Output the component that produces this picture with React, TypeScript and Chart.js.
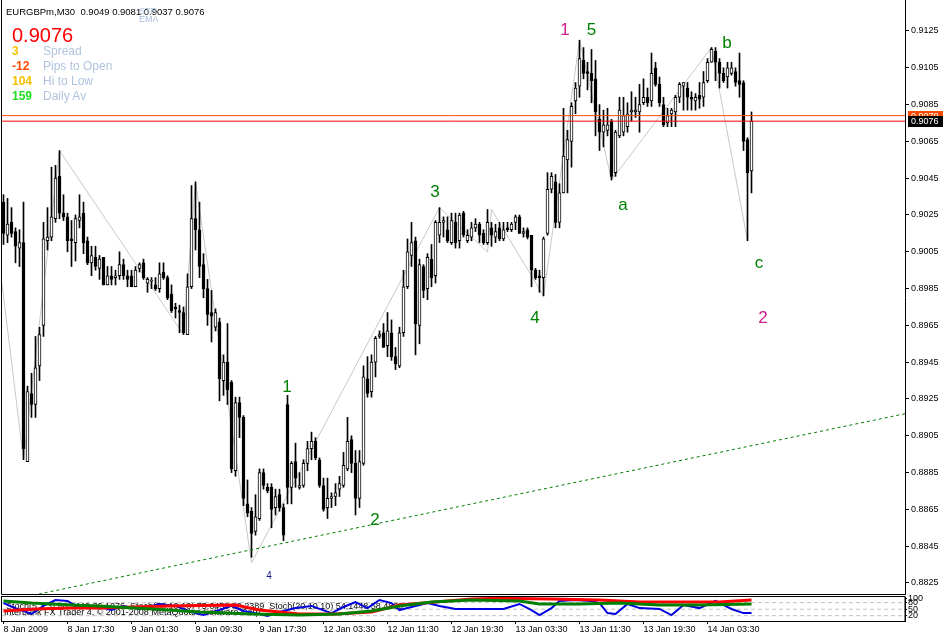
import React, { useEffect, useRef } from "react";
import { Chart, registerables } from "chart.js";
Chart.register(...registerables);

const FONT = "'Liberation Sans', Arial, sans-serif";

// ---- candle data (EURGBPm, M30) ----
const opens = [
  0.9032,0.9014,0.9021,0.9016,0.9007,0.9010,0.8891,0.8928,0.8922,0.8943,
  0.8965,0.9011,0.9013,0.9023,0.9046,0.9026,0.9024,0.9012,0.9010,0.9022,
  0.9026,0.9011,0.8999,0.9002,0.8996,0.9002,0.8987,0.8992,0.8991,0.8992,
  0.8998,0.8992,0.8992,0.8986,0.8996,0.8999,0.8988,0.8989,0.8987,0.8985,
  0.8994,0.8991,0.8982,0.8975,0.8973,0.8972,0.8960,0.8986,0.9023,0.9017,
  0.8998,0.8985,0.8972,0.8964,0.8967,0.8935,0.8945,0.8934,0.8886,0.8923,
  0.8915,0.8868,0.8864,0.8853,0.8860,0.8885,0.8877,0.8877,0.8866,0.8873,
  0.8866,0.8922,0.8877,0.8891,0.8877,0.8878,0.8890,0.8898,0.8902,0.8892,
  0.8878,0.8866,0.8871,0.8872,0.8876,0.8878,0.8887,0.8903,0.8890,0.8871,
  0.8890,0.8936,0.8929,0.8945,0.8959,0.8961,0.8954,0.8961,0.8948,0.8943,
  0.8961,0.8986,0.9003,0.9011,0.8965,0.8997,0.8985,0.9001,0.8992,0.9014,
  0.9021,0.9017,0.9010,0.9021,0.9011,0.9026,0.9011,0.9013,0.9018,0.9020,
  0.9015,0.9010,0.9018,0.9013,0.9018,0.9012,0.9018,0.9017,0.9021,0.9024,
  0.9015,0.9017,0.9014,0.8995,0.8992,0.8991,0.9015,0.9039,0.9043,0.9021,
  0.9037,0.9055,0.9065,0.9087,0.9095,0.9109,0.9103,0.9102,0.9099,0.9077,
  0.9070,0.9071,0.9076,0.9048,0.9068,0.9070,0.9073,0.9081,0.9081,0.9081,
  0.9086,0.9089,0.9087,0.9105,0.9096,0.9085,0.9075,0.9080,0.9081,0.9089,
  0.9095,0.9094,0.9089,0.9087,0.9090,0.9089,0.9098,0.9108,0.9114,0.9108,
  0.9102,0.9100,0.9102,0.9103,0.9098,0.9097,0.9066,0.9049,
];
const highs = [
  0.9036,0.9034,0.9029,0.9018,0.9017,0.9032,0.8932,0.8939,0.8959,0.8964,
  0.9021,0.9029,0.9051,0.9052,0.9060,0.9036,0.9026,0.9022,0.9025,0.9036,
  0.9032,0.9013,0.9008,0.9008,0.9003,0.9002,0.8997,0.8997,0.8995,0.9005,
  0.9001,0.8995,0.8995,0.8997,0.8999,0.9001,0.8991,0.8991,0.8991,0.8999,
  0.8999,0.8992,0.8987,0.8977,0.8976,0.8975,0.8993,0.9041,0.9043,0.9032,
  0.9004,0.8990,0.8984,0.8974,0.8969,0.8949,0.8966,0.8935,0.8926,0.8926,
  0.8916,0.8881,0.8866,0.8873,0.8887,0.8887,0.8879,0.8879,0.8876,0.8876,
  0.8868,0.8927,0.8891,0.8901,0.8885,0.8892,0.8902,0.8907,0.8904,0.8893,
  0.8882,0.8882,0.8874,0.8879,0.8883,0.8896,0.8915,0.8905,0.8897,0.8897,
  0.8943,0.8948,0.8949,0.8959,0.8962,0.8966,0.8972,0.8968,0.8953,0.8964,
  0.8995,0.9012,0.9021,0.9013,0.9001,0.8998,0.9004,0.9009,0.9022,0.9029,
  0.9024,0.9024,0.9026,0.9026,0.9026,0.9027,0.9017,0.9021,0.9023,0.9021,
  0.9017,0.9028,0.9021,0.9020,0.9021,0.9021,0.9021,0.9021,0.9025,0.9025,
  0.9018,0.9018,0.9014,0.8996,0.8995,0.9013,0.9048,0.9048,0.9047,0.9042,
  0.9083,0.9071,0.9086,0.9097,0.9120,0.9116,0.9108,0.9115,0.9109,0.9085,
  0.9082,0.9083,0.9077,0.9071,0.9089,0.9089,0.9086,0.9092,0.9089,0.9096,
  0.9099,0.9094,0.9113,0.9108,0.9100,0.9089,0.9083,0.9083,0.9090,0.9097,
  0.9097,0.9097,0.9092,0.9091,0.9097,0.9103,0.9110,0.9116,0.9116,0.9110,
  0.9105,0.9108,0.9108,0.9105,0.9113,0.9098,0.9067,0.9081,
];
const lows = [
  0.9009,0.9010,0.9013,0.8999,0.8997,0.8892,0.8891,0.8915,0.8915,0.8935,
  0.8959,0.9006,0.9011,0.9021,0.9023,0.9022,0.9005,0.8997,0.9000,0.9018,
  0.9004,0.8998,0.8992,0.8995,0.8990,0.8987,0.8987,0.8987,0.8987,0.8990,
  0.8990,0.8986,0.8986,0.8986,0.8994,0.8990,0.8983,0.8985,0.8984,0.8983,
  0.8990,0.8979,0.8972,0.8969,0.8961,0.8960,0.8960,0.8985,0.9006,0.8991,
  0.8980,0.8965,0.8956,0.8962,0.8924,0.8927,0.8922,0.8885,0.8883,0.8904,
  0.8867,0.8861,0.8839,0.8851,0.8859,0.8876,0.8874,0.8855,0.8862,0.8864,
  0.8848,0.8868,0.8868,0.8877,0.8876,0.8877,0.8886,0.8892,0.8892,0.8877,
  0.8864,0.8860,0.8866,0.8867,0.8872,0.8877,0.8886,0.8885,0.8862,0.8866,
  0.8889,0.8926,0.8926,0.8937,0.8958,0.8953,0.8948,0.8946,0.8941,0.8942,
  0.8959,0.8985,0.8997,0.8949,0.8955,0.8980,0.8979,0.8986,0.8988,0.9010,
  0.9013,0.9010,0.9009,0.9007,0.9007,0.9013,0.9010,0.9011,0.9016,0.9010,
  0.9009,0.9009,0.9008,0.9010,0.9011,0.9011,0.9016,0.9016,0.9017,0.9015,
  0.9013,0.9012,0.8986,0.8990,0.8983,0.8981,0.9014,0.9037,0.9018,0.9018,
  0.9037,0.9037,0.9051,0.9080,0.9089,0.9099,0.9093,0.9086,0.9068,0.9060,
  0.9062,0.9068,0.9044,0.9046,0.9067,0.9068,0.9070,0.9076,0.9078,0.9070,
  0.9085,0.9084,0.9084,0.9095,0.9084,0.9073,0.9073,0.9073,0.9073,0.9086,
  0.9082,0.9082,0.9082,0.9082,0.9083,0.9084,0.9097,0.9108,0.9098,0.9094,
  0.9097,0.9094,0.9101,0.9095,0.9089,0.9060,0.9011,0.9037,
];
const closes = [
  0.9015,0.9020,0.9015,0.9008,0.9010,0.8898,0.8929,0.8922,0.8942,0.8960,
  0.9012,0.9013,0.9024,0.9045,0.9026,0.9024,0.9011,0.9011,0.9023,0.9024,
  0.9010,0.8999,0.9003,0.8997,0.9001,0.8987,0.8992,0.8990,0.8992,0.8998,
  0.8992,0.8990,0.8986,0.8995,0.8998,0.8991,0.8990,0.8989,0.8985,0.8993,
  0.8991,0.8980,0.8973,0.8974,0.8972,0.8961,0.8986,0.9023,0.9017,0.8997,
  0.8985,0.8971,0.8970,0.8972,0.8936,0.8945,0.8930,0.8887,0.8923,0.8915,
  0.8871,0.8863,0.8852,0.8861,0.8885,0.8878,0.8875,0.8865,0.8872,0.8866,
  0.8851,0.8877,0.8890,0.8882,0.8878,0.8890,0.8898,0.8902,0.8893,0.8878,
  0.8865,0.8871,0.8872,0.8874,0.8879,0.8889,0.8902,0.8890,0.8871,0.8891,
  0.8937,0.8928,0.8945,0.8958,0.8960,0.8953,0.8962,0.8948,0.8944,0.8961,
  0.8986,0.9005,0.9010,0.8966,0.8998,0.8984,0.9002,0.8991,0.9021,0.9021,
  0.9022,0.9011,0.9022,0.9010,0.9025,0.9014,0.9014,0.9018,0.9020,0.9014,
  0.9010,0.9021,0.9014,0.9016,0.9012,0.9017,0.9017,0.9020,0.9024,0.9015,
  0.9016,0.9013,0.8995,0.8991,0.8991,0.9012,0.9039,0.9046,0.9021,0.9037,
  0.9057,0.9066,0.9084,0.9094,0.9110,0.9102,0.9102,0.9098,0.9081,0.9070,
  0.9074,0.9074,0.9046,0.9070,0.9082,0.9079,0.9080,0.9082,0.9082,0.9085,
  0.9089,0.9086,0.9102,0.9096,0.9086,0.9074,0.9079,0.9082,0.9089,0.9096,
  0.9097,0.9089,0.9088,0.9089,0.9088,0.9097,0.9108,0.9115,0.9108,0.9102,
  0.9098,0.9105,0.9105,0.9097,0.9096,0.9065,0.9048,0.9076,
];

// zigzag swing points (bar index, price)
const zigzagIdx = [-0.4, 5, 14, 45, 48, 62, 109, 121, 122, 135, 144, 152, 177, 186];
const zigzagPrice = [0.8988, 0.8892, 0.9060, 0.8960, 0.9043, 0.8836, 0.9029, 0.9005, 0.9028, 0.8981, 0.9120, 0.9044, 0.9116, 0.9011];

// dotted trend line anchors
const trendIdx = [0, 225.4];
const trendPrice = [0.8815, 0.8917];

const askPrice = 0.9079;
const bidPrice = 0.9076;

// Elliott wave labels
const waveText = ["1", "5", "3", "4", "1", "2", "a", "b", "c", "2", "4"];
const waveIdx = [140.4, 147, 107.9, 132.9, 70.9, 92.9, 154.9, 180.9, 188.9, 189.9, 66.4];
const wavePrice = [0.91255, 0.91255, 0.90375, 0.8969, 0.89315, 0.88592, 0.90304, 0.91185, 0.89989, 0.8969, 0.88288];
const waveKind = ["major", "minor", "minor", "minor", "minor", "minor", "minor", "minor", "minor", "major", "tiny"];

const priceTicks = [0.9125, 0.9105, 0.9085, 0.9065, 0.9045, 0.9025, 0.9005, 0.8985, 0.8965, 0.8945, 0.8925, 0.8905, 0.8885, 0.8865, 0.8845, 0.8825];

const timeIdx = [0, 16, 32, 48, 64, 80, 96, 112, 128, 144, 160, 176];
const timeLabels = ["8 Jan 2009", "8 Jan 17:30", "9 Jan 01:30", "9 Jan 09:30", "9 Jan 17:30", "12 Jan 03:30", "12 Jan 11:30", "12 Jan 19:30", "13 Jan 03:30", "13 Jan 11:30", "13 Jan 19:30", "14 Jan 03:30"];

// stochastic lines (bar index, value)
const stochBlueIdx = [0, 3, 7, 10, 13, 16, 19, 23, 27, 30, 34, 39, 43, 47, 50, 54, 57, 60, 64, 66, 69, 73, 77, 82, 85, 88, 91, 94, 97, 99, 102, 106, 109, 113, 117, 122, 125, 129, 132, 134, 137, 139, 143, 147, 149, 151, 153, 156, 159, 164, 167, 170, 174, 178, 182, 185, 187];
const stochBlueVal = [78, 55, 28, 65, 92, 88, 55, 65, 46, 65, 51, 74, 65, 37, 23, 46, 65, 42, 28, 19, 37, 55, 65, 32, 60, 83, 55, 92, 78, 46, 60, 78, 65, 51, 51, 51, 51, 74, 46, 23, 55, 88, 92, 88, 78, 32, 28, 74, 55, 51, 23, 69, 55, 88, 51, 32, 32];
const stochRedIdx = [0, 8, 17, 24, 41, 58, 64, 74, 83, 92, 99, 108, 117, 124, 137, 149, 159, 172, 179, 187];
const stochRedVal = [42, 51, 55, 55, 65, 69, 46, 28, 28, 37, 69, 83, 97, 100, 97, 92, 83, 83, 83, 92];
const stochGreenIdx = [0, 7, 17, 24, 37, 49, 62, 74, 84, 92, 99, 107, 117, 129, 134, 144, 154, 164, 174, 187];
const stochGreenVal = [88, 78, 69, 65, 51, 37, 28, 23, 28, 42, 65, 83, 92, 88, 74, 74, 78, 69, 69, 74];
const stochLevels = [80, 50, 20];
const stochAxisTicks = [100, 80, 50, 20];

const X_MIN = -0.375;
const X_MAX = 225.375;
const Y_MIN = 0.8825 - 11 / 18400;
const Y_MAX = 0.9125 + 31 / 18400;

const noPad = (s: any) => {
  s.paddingTop = 0;
  s.paddingBottom = 0;
  s.paddingLeft = 0;
  s.paddingRight = 0;
};

export default function App() {
  const mainRef = useRef<HTMLCanvasElement>(null);
  const subRef = useRef<HTMLCanvasElement>(null);

  useEffect(() => {
    const bodyData = opens.map((o, i) => ({ x: i, y: [o, closes[i]] }));
    const wickData = opens.map((_, i) => ({ x: i, y: [lows[i], highs[i]] }));
    const bodyFill = opens.map((o, i) => (closes[i] >= o ? "#ffffff" : "#000000"));
    const zigzag = zigzagIdx.map((x, i) => ({ x, y: zigzagPrice[i] }));
    const trend = trendIdx.map((x, i) => ({ x, y: trendPrice[i] }));
    const askLine = [{ x: X_MIN, y: askPrice }, { x: X_MAX, y: askPrice }];
    const bidLine = [{ x: X_MIN, y: bidPrice }, { x: X_MAX, y: bidPrice }];

    const overlay = {
      id: "mainOverlay",
      afterDatasetsDraw(chart: any) {
        const { ctx, scales, chartArea } = chart;
        const xs = scales.x, ys = scales.y;
        ctx.save();
        ctx.beginPath();
        ctx.rect(chartArea.left, chartArea.top, chartArea.right - chartArea.left, chartArea.bottom - chartArea.top);
        ctx.clip();
        ctx.textAlign = "center";
        ctx.textBaseline = "middle";
        waveText.forEach((t, i) => {
          const k = waveKind[i];
          ctx.fillStyle = k === "major" ? "#cc1d8a" : k === "tiny" ? "#1a1a8c" : "#008000";
          ctx.font = k === "tiny" ? `10px ${FONT}` : `17px ${FONT}`;
          ctx.fillText(t, xs.getPixelForValue(waveIdx[i]), ys.getPixelForValue(wavePrice[i]));
        });
        ctx.restore();
      },
      afterDraw(chart: any) {
        const { ctx, scales, chartArea } = chart;
        const ys = scales.y;
        ctx.save();
        ctx.strokeStyle = "#000";
        ctx.lineWidth = 1;
        ctx.beginPath();
        ctx.moveTo(1.5, 0);
        ctx.lineTo(1.5, chartArea.bottom + 0.5);
        ctx.lineTo(chartArea.right, chartArea.bottom + 0.5);
        ctx.stroke();
        ctx.font = `9px ${FONT}`;
        ctx.textBaseline = "middle";
        ctx.textAlign = "left";
        const boxes = [
          { p: askPrice, bg: "#ff4a00" },
          { p: bidPrice, bg: "#000000" },
        ];
        boxes.forEach((b) => {
          const y = Math.round(ys.getPixelForValue(b.p));
          ctx.fillStyle = b.bg;
          ctx.fillRect(chartArea.right + 3, y - 5, 35, 11);
          ctx.fillStyle = "#fff";
          ctx.fillText(b.p.toFixed(4), chartArea.right + 6, y + 0.5);
        });
        ctx.restore();
      },
    };

    const main = new Chart(mainRef.current as HTMLCanvasElement, {
      type: "bar",
      data: {
        datasets: [
          { type: "line", data: askLine, borderColor: "#ff4a00", borderWidth: 1, pointRadius: 0, order: -2 } as any,
          { type: "line", data: bidLine, borderColor: "#ff0000", borderWidth: 1, pointRadius: 0, order: -2 } as any,
          { type: "line", data: trend, borderColor: "#008000", borderWidth: 1, borderDash: [3, 3], pointRadius: 0, order: -1 } as any,
          {
            type: "bar", data: bodyData, backgroundColor: bodyFill, borderColor: "#000", borderWidth: 1,
            borderSkipped: false, barThickness: 3, minBarLength: 1, grouped: false, order: 0,
          } as any,
          {
            type: "bar", data: wickData, backgroundColor: "#000", borderWidth: 0,
            barThickness: 1, minBarLength: 1, grouped: false, order: 1,
          } as any,
          { type: "line", data: zigzag, borderColor: "#c8c8c8", borderWidth: 1, pointRadius: 0, order: 2 } as any,
        ],
      },
      options: {
        responsive: false,
        animation: false,
        devicePixelRatio: 1,
        events: [],
        layout: { padding: { left: 2, top: 0, right: 0, bottom: 1 }, autoPadding: false } as any,
        plugins: { legend: { display: false }, tooltip: { enabled: false } },
        scales: {
          x: {
            type: "linear", min: X_MIN, max: X_MAX, display: false, offset: false,
            grid: { offset: false },
          },
          y: {
            type: "linear", position: "right", min: Y_MIN, max: Y_MAX,
            afterDataLimits: (s: any) => { s.min = Y_MIN; s.max = Y_MAX; },
            afterBuildTicks: (s: any) => { s.ticks = priceTicks.map((v) => ({ value: v })); },
            afterFit: (s: any) => { s.width = 38; noPad(s); },
            grid: { drawOnChartArea: false, drawTicks: true, tickLength: 4, color: "#000" },
            border: { display: true, color: "#000" },
            ticks: {
              autoSkip: false, padding: 2, color: "#000",
              font: { family: FONT, size: 9 },
              callback: (v: any) => Number(v).toFixed(4),
            },
          } as any,
        },
      } as any,
      plugins: [overlay],
    });

    const stochDs = (idxs: number[], vals: number[], color: string, w: number, order: number) => ({
      data: idxs.map((x, i) => ({ x, y: vals[i] })),
      borderColor: color, borderWidth: w, pointRadius: 0, order,
    });

    const subOverlay = {
      id: "subOverlay",
      beforeDatasetsDraw(chart: any) {
        const { ctx } = chart;
        ctx.save();
        ctx.fillStyle = "#000";
        ctx.font = `9px ${FONT}`;
        ctx.textBaseline = "alphabetic";
        ctx.textAlign = "left";
        ctx.fillText("Stoch(5,3,3) 40.3449 36.1076  Stoch(50,10,10) 75.6458 82.2389  Stoch(20,10,10) 54.1448 58.4839", 6, 14);
        ctx.fillText("Interbank FX Trader 4, \u00a9 2001-2008 MetaQuotes Software Corp.", 4, 20);
        ctx.restore();
      },
      afterDraw(chart: any) {
        const { ctx, chartArea } = chart;
        ctx.save();
        ctx.strokeStyle = "#000";
        ctx.lineWidth = 1;
        ctx.strokeRect(1.5, chartArea.top - 0.5, chartArea.right - 1.5, chartArea.bottom - chartArea.top + 1);
        ctx.restore();
      },
    };

    const sub = new Chart(subRef.current as HTMLCanvasElement, {
      type: "line",
      data: {
        datasets: [
          ...stochLevels.map((lv) => ({
            data: [{ x: X_MIN, y: lv }, { x: X_MAX, y: lv }],
            borderColor: "#c0c0c0", borderWidth: 1, borderDash: [4, 3], pointRadius: 0, order: 5,
          })),
          stochDs(stochBlueIdx, stochBlueVal, "#0000e0", 2, 3),
          stochDs(stochRedIdx, stochRedVal, "#ff0000", 3, 2),
          stochDs(stochGreenIdx, stochGreenVal, "#008000", 3, 1),
        ] as any,
      },
      options: {
        responsive: false,
        animation: false,
        devicePixelRatio: 1,
        events: [],
        layout: { padding: { left: 2, top: 2, right: 0, bottom: 0 }, autoPadding: false } as any,
        plugins: { legend: { display: false }, tooltip: { enabled: false } },
        scales: {
          x: {
            type: "linear", min: X_MIN, max: X_MAX, offset: false,
            afterBuildTicks: (s: any) => { s.ticks = timeIdx.map((v) => ({ value: v })); },
            afterFit: (s: any) => { s.height = 17; noPad(s); },
            grid: { drawOnChartArea: false, drawTicks: true, tickLength: 3, color: "#000" },
            border: { display: false },
            ticks: {
              autoSkip: false, maxRotation: 0, minRotation: 0, align: "start", padding: 0, color: "#000",
              font: { family: FONT, size: 9 },
              callback: (_v: any, i: number) => timeLabels[i],
            },
          } as any,
          y: {
            type: "linear", position: "right", min: -4.4, max: 106,
            afterBuildTicks: (s: any) => { s.ticks = stochAxisTicks.map((v) => ({ value: v })); },
            afterFit: (s: any) => { s.width = 38; noPad(s); },
            grid: { drawOnChartArea: false, drawTicks: true, tickLength: 2, color: "#000" },
            border: { display: true, color: "#000" },
            ticks: {
              autoSkip: false, padding: 1, color: "#000",
              font: { family: FONT, size: 9 },
            },
          } as any,
        },
      } as any,
      plugins: [subOverlay],
    });

    return () => {
      main.destroy();
      sub.destroy();
    };
  }, []);

  const info: React.CSSProperties = { position: "absolute", fontFamily: FONT, whiteSpace: "pre", margin: 0 };
  const rowTops = [45, 60, 75, 90];
  const rowNums = ["3", "-12", "104", "159"];
  const rowNumColors = ["#f5c400", "#ff4a00", "#f5c000", "#22dd22"];
  const rowLabels = ["Spread", "Pips to Open", "Hi to Low", "Daily Av"];

  return (
    <div style={{ position: "fixed", left: 0, top: 0, width: 943, height: 638, background: "#fff", overflow: "hidden" }}>
      <canvas ref={mainRef} width={943} height={595} style={{ position: "absolute", left: 0, top: 0 }} />
      <canvas ref={subRef} width={943} height={43} style={{ position: "absolute", left: 0, top: 595 }} />
      <div style={{ ...info, left: 6, top: 7, fontSize: 9.5, lineHeight: "9px", color: "#000" }}>
        EURGBPm,M30  0.9049 0.9081 0.9037 0.9076
      </div>
      <div style={{ ...info, left: 139, top: 7, fontSize: 9, lineHeight: "9px", color: "#a9bfd9" }}>STR</div>
      <div style={{ ...info, left: 139, top: 15, fontSize: 9, lineHeight: "9px", color: "#a9bfd9" }}>EMA</div>
      <div style={{ ...info, left: 12, top: 25, fontSize: 20, lineHeight: "20px", color: "#ff0000" }}>0.9076</div>
      {rowTops.map((t, i) => (
        <React.Fragment key={i}>
          <div style={{ ...info, left: 12, top: t, fontSize: 12, lineHeight: "12px", fontWeight: "bold", color: rowNumColors[i] }}>
            {rowNums[i]}
          </div>
          <div style={{ ...info, left: 43, top: t, fontSize: 12, lineHeight: "12px", color: "#b0c4de" }}>{rowLabels[i]}</div>
        </React.Fragment>
      ))}
    </div>
  );
}
